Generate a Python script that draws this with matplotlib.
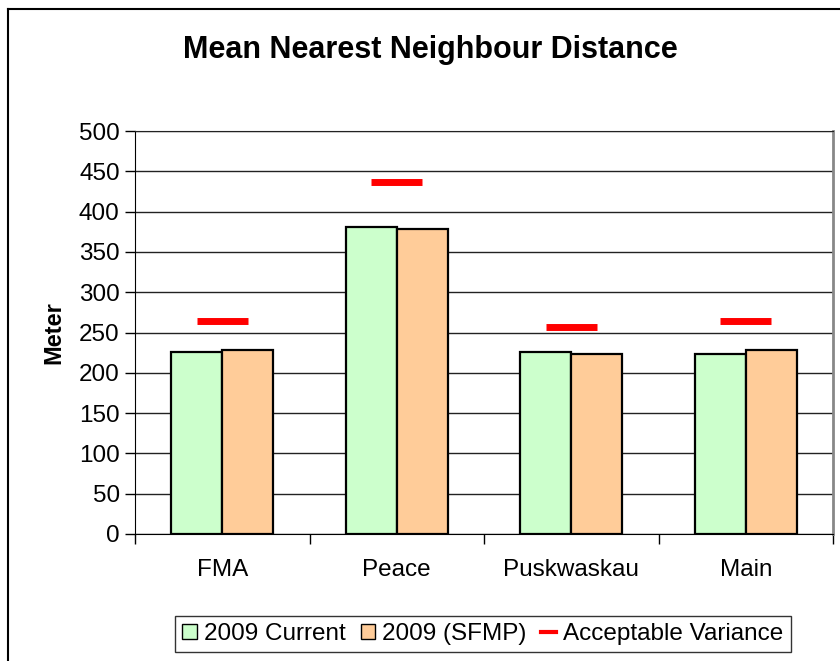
import matplotlib.pyplot as plt
from matplotlib.lines import Line2D
from matplotlib.patches import Patch
import numpy as np

plt.rcParams['font.family'] = ['Liberation Sans', 'DejaVu Sans']

categories = ['FMA', 'Peace', 'Puskwaskau', 'Main']
current_2009 = [226, 381, 226, 223]
sfmp_2009 = [228, 379, 223, 228]
acceptable_variance = [264, 437, 257, 264]

green = '#CCFFCC'
orange = '#FFCC99'

fig = plt.figure(figsize=(8.4, 6.61), dpi=100)
ax = fig.add_axes([135 / 840, 1 - 534 / 661, 698 / 840, 403 / 661])

x = np.arange(len(categories))
w = 0.292
ax.bar(x - w / 2, current_2009, w, color=green, edgecolor='black', linewidth=1.6, zorder=3)
ax.bar(x + w / 2, sfmp_2009, w, color=orange, edgecolor='black', linewidth=1.6, zorder=3)
ax.hlines(acceptable_variance, x - w / 2, x + w / 2, colors='red', linewidth=5, zorder=4)

ax.set_xlim(-0.5, len(categories) - 0.5)
ax.set_ylim(0, 500)
ax.set_yticks(np.arange(0, 501, 50))
ax.yaxis.grid(True, color='#222222', linewidth=1)
ax.set_axisbelow(True)
ax.tick_params(axis='y', labelsize=17.5, length=7, width=1, direction='out', pad=4)

ax.set_xticks(x)
ax.set_xticklabels(categories, fontsize=17.5)
ax.tick_params(axis='x', length=0, pad=18)
ax.set_xticks(np.arange(-0.5, len(categories), 1), minor=True)
ax.tick_params(axis='x', which='minor', length=7, width=1, direction='out')

ax.spines['left'].set_color('black')
ax.spines['bottom'].set_color('black')
ax.spines['right'].set_color('#888888')
ax.spines['right'].set_linewidth(2)
ax.spines['top'].set_color('#222222')

ax.set_ylabel('Meter', fontsize=17, fontweight='bold', labelpad=10)
fig.text(430 / 840, 1 - 50 / 661, 'Mean Nearest Neighbour Distance',
         fontsize=22, fontweight='bold', ha='center', va='center')

handles = [
    Patch(facecolor=green, edgecolor='black', linewidth=1),
    Patch(facecolor=orange, edgecolor='black', linewidth=1),
    Line2D([0], [0], color='red', linewidth=3),
]
leg = fig.legend(handles, ['2009 Current', '2009 (SFMP)', 'Acceptable Variance'],
                 loc='center', bbox_to_anchor=(483 / 840, 1 - 634 / 661), ncol=3,
                 fontsize=17.5, frameon=True, fancybox=False, edgecolor='black',
                 handlelength=0.6, handleheight=0.6, handletextpad=0.3,
                 columnspacing=0.6, borderpad=0.3)
leg.get_frame().set_linewidth(1)

# outer chart frame
fig.add_artist(Line2D([8 / 840, 1], [1 - 9 / 661, 1 - 9 / 661], color='black', linewidth=1.5))
fig.add_artist(Line2D([8 / 840, 8 / 840], [0, 1 - 9 / 661], color='black', linewidth=1.5))

fig.savefig('out.png', dpi=100)
